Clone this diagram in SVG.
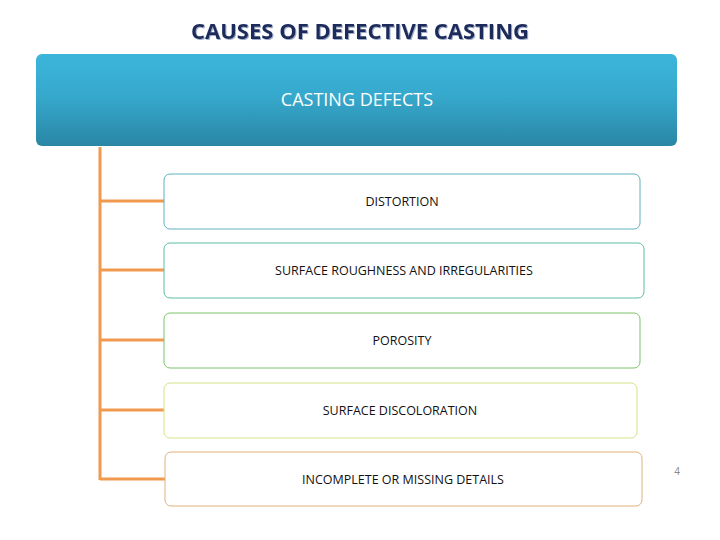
<svg xmlns="http://www.w3.org/2000/svg" width="720" height="540" viewBox="0 0 720 540">
<defs>
<linearGradient id="hg" x1="0" y1="0" x2="0" y2="1">
<stop offset="0" stop-color="#3cb5db"/><stop offset="0.45" stop-color="#36a9cd"/><stop offset="1" stop-color="#2a86a5"/>
</linearGradient>
<filter id="sh" x="-5%" y="-5%" width="110%" height="120%"><feDropShadow dx="1" dy="1" stdDeviation="0.6" flood-color="#8899bb" flood-opacity="0.8"/></filter>
</defs>
<style>
text{font-family:"Open Sans","Liberation Sans",sans-serif;text-anchor:middle}
.b{fill:#fff;stroke-width:1}
.t{font-size:12.5px;fill:#111}
.c{stroke:#ef9a4e;stroke-width:3;fill:none}
</style>
<rect width="720" height="540" fill="#fff"/>
<text x="360" y="39" font-size="22" font-weight="bold" fill="#1b2a5c" filter="url(#sh)" style="font-family:'Open Sans','Liberation Sans',sans-serif">CAUSES OF DEFECTIVE CASTING</text>
<g id="header"><rect x="36" y="54" width="641" height="92" rx="6" fill="url(#hg)"/><text x="357" y="106" font-size="18" fill="#fff">CASTING DEFECTS</text></g>
<g id="connectors">
<path class="c" d="M100 147V480M100 201H164M100 270H164M100 340H164M100 410H164M100 479H165"/>
</g>
<g id="n1"><rect class="b" x="164" y="174" width="476" height="55" rx="6" stroke="#5fb0c0"/><text class="t" x="402" y="206">DISTORTION</text></g>
<g id="n2"><rect class="b" x="164" y="243" width="480" height="55" rx="6" stroke="#5ebda6"/><text class="t" x="404" y="275">SURFACE ROUGHNESS AND IRREGULARITIES</text></g>
<g id="n3"><rect class="b" x="164" y="313" width="476" height="55" rx="6" stroke="#7cc36a"/><text class="t" x="402" y="345">POROSITY</text></g>
<g id="n4"><rect class="b" x="164" y="383" width="473" height="55" rx="6" stroke="#d8e08a"/><text class="t" x="400" y="415">SURFACE DISCOLORATION</text></g>
<g id="n5"><rect class="b" x="165" y="452" width="477" height="54" rx="6" stroke="#e0b27a"/><text class="t" x="403" y="484">INCOMPLETE OR MISSING DETAILS</text></g>
<text x="677" y="475" font-size="10" fill="#888">4</text>
</svg>
